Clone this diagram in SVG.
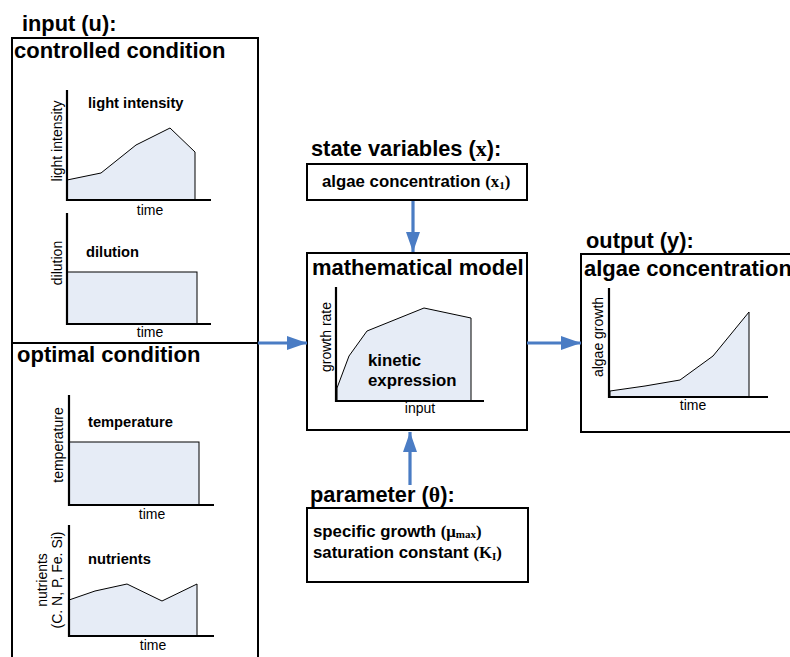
<svg xmlns="http://www.w3.org/2000/svg" width="790" height="657" viewBox="0 0 790 657">
<style>
text{font-family:"Liberation Sans",Arial,sans-serif;fill:#000}
.h{font-size:21.8px;font-weight:bold}
.t{font-size:22px;font-weight:bold}
.c{font-size:14.7px;font-weight:bold}
.b{font-size:16.8px;font-weight:bold}
.s{font-size:14px}
.serif{font-family:"Liberation Serif","Times New Roman",serif}
.box{fill:#fff;stroke:#000;stroke-width:2}
.ax{fill:none;stroke:#000;stroke-width:2.2}
.area{fill:#E6ECF6;stroke:#000;stroke-width:1}
.conn{stroke:#4A7CC4;stroke-width:3.2;fill:none}
</style>
<defs>
<marker id="ah" viewBox="0 0 20 14" refX="20" refY="7" markerWidth="20" markerHeight="14" markerUnits="userSpaceOnUse" orient="auto">
<path d="M0,0 L20,7 L0,14 z" fill="#4A7CC4"/>
</marker>
</defs>
<rect width="790" height="657" fill="#fff"/>

<g id="input">
<text class="h" x="22" y="31">input (u):</text>
<rect class="box" x="12" y="38" width="246" height="640"/>
<line x1="12" y1="343" x2="258" y2="343" stroke="#000" stroke-width="2"/>
<text class="t" x="14" y="58">controlled condition</text>
<text class="t" x="17" y="362">optimal condition</text>
</g>

<g id="chart-light">
<polygon class="area" points="67,180 101,173 136,145 170,128 195,152 195,200 67,200"/>
<polyline class="ax" points="67,90 67,200 211,200"/>
<text class="c" x="88" y="108">light intensity</text>
<text class="s" transform="translate(62,141) rotate(-90)" text-anchor="middle">light intensity</text>
<text class="s" x="150" y="215" text-anchor="middle">time</text>
</g>

<g id="chart-dilution">
<rect class="area" x="67" y="272" width="130" height="52"/>
<polyline class="ax" points="67,213 67,324 211,324"/>
<text class="c" x="86" y="257">dilution</text>
<text class="s" transform="translate(62,263) rotate(-90)" text-anchor="middle">dilution</text>
<text class="s" x="150" y="337" text-anchor="middle">time</text>
</g>

<g id="chart-temperature">
<rect class="area" x="69" y="442" width="130" height="63"/>
<polyline class="ax" points="69,395 69,505 214,505"/>
<text class="c" x="88" y="427">temperature</text>
<text class="s" transform="translate(63,445) rotate(-90)" text-anchor="middle">temperature</text>
<text class="s" x="152" y="519" text-anchor="middle">time</text>
</g>

<g id="chart-nutrients">
<polygon class="area" points="69,600 95,591 127,584 162,601 197,584 197,636 69,636"/>
<polyline class="ax" points="69,525 69,636 214,636"/>
<text class="c" x="88" y="564">nutrients</text>
<text class="s" transform="translate(47,580) rotate(-90)" text-anchor="middle">nutrients</text>
<text class="s" transform="translate(62,580) rotate(-90)" text-anchor="middle">(C. N, P, Fe. Si)</text>
<text class="s" x="153" y="650" text-anchor="middle">time</text>
</g>

<g id="state">
<text class="h" x="311" y="156">state variables (<tspan class="serif">x</tspan>):</text>
<rect class="box" x="307" y="164" width="220" height="36"/>
<text class="b" x="322" y="187">algae concentration <tspan class="serif">(x<tspan font-size="11" dy="2">1</tspan><tspan dy="-2">)</tspan></tspan></text>
</g>

<g id="model">
<rect class="box" x="307" y="253" width="220" height="177"/>
<text class="t" x="312" y="275">mathematical model</text>
<polygon class="area" points="337,388 349,356 367,331 424,308 471,318 471,401 337,401"/>
<polyline class="ax" points="336,287 336,401 484,401"/>
<text class="b" x="368" y="366">kinetic</text>
<text class="b" x="368" y="386">expression</text>
<text class="s" transform="translate(331,337) rotate(-90)" text-anchor="middle">growth rate</text>
<text class="s" x="420" y="413" text-anchor="middle">input</text>
</g>

<g id="output">
<text class="h" x="586" y="248">output (y):</text>
<rect class="box" x="581" y="254" width="220" height="178"/>
<text class="t" x="584" y="276">algae concentration</text>
<polygon class="area" points="610,391 645,386 680,380 713,356 749,312 749,397 610,397"/>
<polyline class="ax" points="609,288 609,397 768,397"/>
<text class="s" transform="translate(603,337) rotate(-90)" text-anchor="middle">algae growth</text>
<text class="s" x="693" y="410" text-anchor="middle">time</text>
</g>

<g id="parameter">
<text class="h" x="310" y="502">parameter (<tspan class="serif">θ</tspan>):</text>
<rect class="box" x="307" y="508" width="221" height="74"/>
<text class="b" x="313" y="537">specific growth <tspan class="serif">(μ<tspan font-size="11" dy="1">max</tspan><tspan dy="-1">)</tspan></tspan></text>
<text class="b" x="313" y="558">saturation constant <tspan class="serif">(K<tspan font-size="11" dy="2">I</tspan><tspan dy="-2">)</tspan></tspan></text>
</g>

<g id="connectors">
<line class="conn" x1="258" y1="343" x2="307" y2="343" marker-end="url(#ah)"/>
<line class="conn" x1="413" y1="201" x2="413" y2="252" marker-end="url(#ah)"/>
<line class="conn" x1="527" y1="343" x2="581" y2="343" marker-end="url(#ah)"/>
<line class="conn" x1="410" y1="485" x2="410" y2="432" marker-end="url(#ah)"/>
</g>
</svg>
